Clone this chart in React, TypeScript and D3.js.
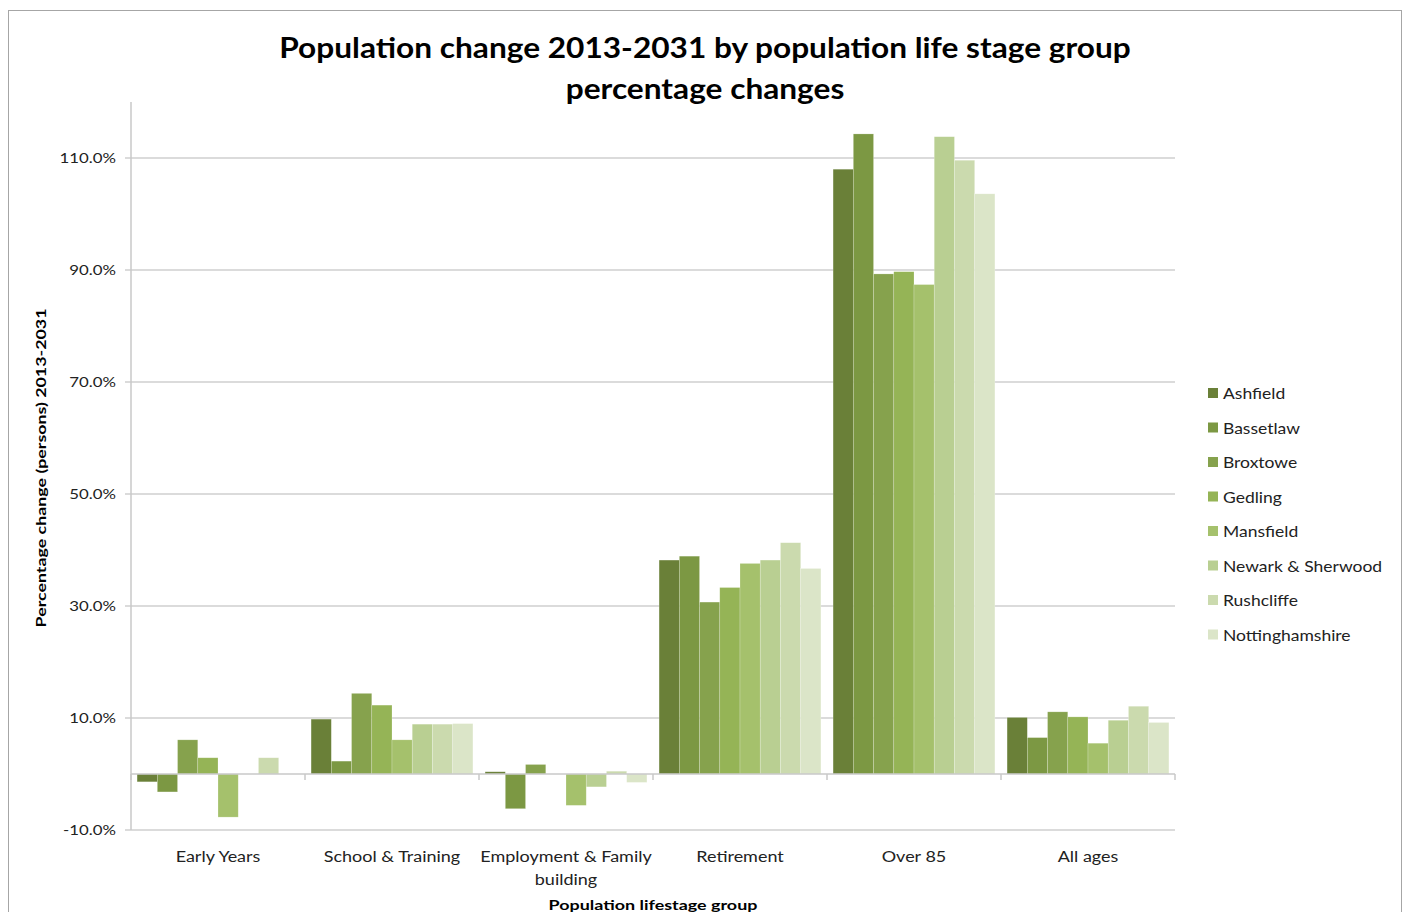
import * as d3 from "d3";

const GROUPS = ["Early Years", "School & Training", "Employment & Family building", "Retirement", "Over 85", "All ages"];
const GROUP_LINES = [["Early Years"], ["School & Training"], ["Employment & Family", "building"], ["Retirement"], ["Over 85"], ["All ages"]];
const AREAS = ["Ashfield", "Bassetlaw", "Broxtowe", "Gedling", "Mansfield", "Newark & Sherwood", "Rushcliffe", "Nottinghamshire"];
const COLORS = ["#6a8038", "#7c9843", "#86a24d", "#95b456", "#a5c16c", "#b9cf92", "#cbdaae", "#dbe5c8"];

// percentage change per area, one value per group (same order as GROUPS)
const ashfield = [-1.4, 9.8, 0.4, 38.2, 108.0, 10.1];
const bassetlaw = [-3.2, 2.3, -6.2, 38.9, 114.3, 6.5];
const broxtowe = [6.1, 14.4, 1.7, 30.7, 89.3, 11.1];
const gedling = [2.9, 12.3, 0, 33.3, 89.7, 10.2];
const mansfield = [-7.7, 6.1, -5.6, 37.6, 87.4, 5.5];
const newark = [0, 8.9, -2.3, 38.2, 113.8, 9.6];
const rushcliffe = [2.9, 8.9, 0.5, 41.3, 109.6, 12.1];
const notts = [0, 9.0, -1.5, 36.7, 103.6, 9.2];
const SERIES = [ashfield, bassetlaw, broxtowe, gedling, mansfield, newark, rushcliffe, notts];

const Y_TICKS = [-10, 10, 30, 50, 70, 90, 110];

const FONT = "Lato, 'Open Sans', sans-serif";
// the source image is stretched sideways, so text is widened a little
const SX = 1.2;

export default function App() {
  const left = 131, right = 1175, top = 102, bottom = 830;
  const y = d3.scaleLinear().domain([-10, 120]).range([bottom, top]);
  const x0 = d3.scaleBand().domain(GROUPS).range([left, right]).paddingInner(0.07).paddingOuter(0.035);
  const x1 = d3.scaleBand().domain(AREAS).range([0, x0.bandwidth()]);
  const step = (right - left) / GROUPS.length;
  const y0 = y(0);

  return (
    <svg width={1407} height={912} style={{ position: "absolute", left: 0, top: 0, background: "#fff" }}>
      <rect x={8.5} y={10.5} width={1393} height={920} fill="#fff" stroke="#a6a6a6" strokeWidth={1} />
      <g fontFamily={FONT} fontWeight={700} fontSize={28} fill="#000" textAnchor="middle">
        <text transform={`translate(705, 58) scale(1.13, 1)`}>Population change 2013-2031 by population life stage group</text>
        <text transform={`translate(705, 99) scale(1.13, 1)`}>percentage changes</text>
      </g>

      {Y_TICKS.map((t) => (
        <g key={t}>
          <line x1={left - 6} x2={right} y1={y(t)} y2={y(t)} stroke="#cfcfcf" strokeWidth={1.5} />
          <text
            transform={`translate(116, ${y(t) + 5}) scale(${SX}, 1)`}
            textAnchor="end"
            fontFamily={FONT}
            fontSize={14}
            fill="#222"
          >
            {t.toFixed(1)}%
          </text>
        </g>
      ))}
      <line x1={left} x2={left} y1={top} y2={bottom} stroke="#c8c8c8" strokeWidth={1.5} />

      {SERIES.map((vals, si) =>
        vals.map((v, gi) => (
          <rect
            key={`${si}-${gi}`}
            x={(x0(GROUPS[gi]) ?? 0) + (x1(AREAS[si]) ?? 0)}
            y={Math.min(y(v), y0)}
            width={x1.bandwidth()}
            height={Math.abs(y(v) - y0)}
            fill={COLORS[si]}
            stroke="#ffffff"
            strokeOpacity={0.35}
            strokeWidth={0.6}
          />
        ))
      )}

      <line x1={left} x2={right} y1={y0} y2={y0} stroke="#c8c8c8" strokeWidth={1.5} />
      {d3.range(GROUPS.length + 1).map((i) => (
        <line key={i} x1={left + i * step} x2={left + i * step} y1={y0} y2={y0 + 6} stroke="#c8c8c8" strokeWidth={1.5} />
      ))}

      {GROUP_LINES.map((lines, gi) =>
        lines.map((l, li) => (
          <text
            key={`${gi}-${li}`}
            transform={`translate(${(x0(GROUPS[gi]) ?? 0) + x0.bandwidth() / 2}, ${862 + li * 23}) scale(${SX}, 1)`}
            textAnchor="middle"
            fontFamily={FONT}
            fontSize={15}
            fill="#222"
          >
            {l}
          </text>
        ))
      )}
      <text
        transform={`translate(653, 910) scale(1.28, 1)`}
        textAnchor="middle"
        fontFamily={FONT}
        fontWeight={700}
        fontSize={14}
        fill="#000"
      >
        Population lifestage group
      </text>
      <text
        transform={`translate(46, ${(y(120) + y(-10)) / 2 + 2}) rotate(-90) scale(1.32, 1)`}
        textAnchor="middle"
        fontFamily={FONT}
        fontWeight={700}
        fontSize={13.5}
        fill="#000"
      >
        Percentage change (persons) 2013-2031
      </text>

      {AREAS.map((a, i) => (
        <g key={a} transform={`translate(1208, ${394 + i * 34.5})`}>
          <rect x={0} y={-6} width={10} height={10} fill={COLORS[i]} />
          <text transform={`translate(15, 5) scale(1.13, 1)`} fontFamily={FONT} fontSize={15.5} fill="#222">
            {a}
          </text>
        </g>
      ))}
    </svg>
  );
}
